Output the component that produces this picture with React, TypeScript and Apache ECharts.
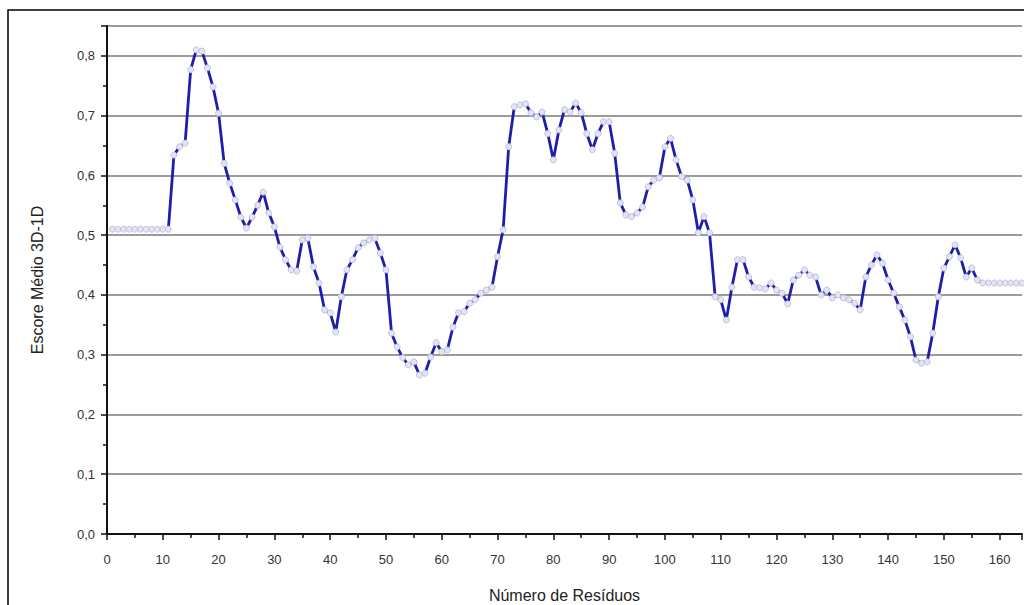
import React, { useEffect, useRef } from "react";
import * as echarts from "echarts";

const residues: number[] = [];
for (let r = 1; r <= 164; r++) residues.push(r);

const scores: number[] = [
  // 1-11
  0.51, 0.51, 0.51, 0.51, 0.51, 0.51, 0.51, 0.51, 0.51, 0.51, 0.51,
  // 12-20
  0.634, 0.648, 0.654, 0.777, 0.81, 0.808, 0.78, 0.748, 0.704,
  // 21-30
  0.62, 0.587, 0.559, 0.53, 0.512, 0.53, 0.55, 0.572, 0.537, 0.514,
  // 31-40
  0.48, 0.459, 0.442, 0.44, 0.492, 0.495, 0.447, 0.42, 0.375, 0.37,
  // 41-50
  0.338, 0.397, 0.442, 0.459, 0.479, 0.487, 0.492, 0.495, 0.47, 0.442,
  // 51-60
  0.336, 0.313, 0.295, 0.283, 0.288, 0.266, 0.269, 0.296, 0.32, 0.305,
  // 61-70
  0.308, 0.346, 0.37, 0.372, 0.386, 0.392, 0.403, 0.408, 0.413, 0.464,
  // 71-80
  0.509, 0.648, 0.715, 0.718, 0.72, 0.705, 0.698, 0.706, 0.67, 0.626,
  // 81-90
  0.676, 0.71, 0.706, 0.721, 0.705, 0.67, 0.643, 0.67, 0.69, 0.69,
  // 91-100
  0.637, 0.554, 0.534, 0.531, 0.537, 0.547, 0.581, 0.592, 0.596, 0.648,
  // 101-110
  0.662, 0.626, 0.598, 0.592, 0.559, 0.504, 0.531, 0.504, 0.397, 0.392,
  // 111-120
  0.358, 0.413, 0.459, 0.459, 0.43, 0.413, 0.412, 0.41, 0.42, 0.408,
  // 121-130
  0.403, 0.385, 0.425, 0.433, 0.442, 0.433, 0.43, 0.4, 0.408, 0.395,
  // 131-140
  0.4, 0.395, 0.392, 0.386, 0.375, 0.43, 0.45, 0.467, 0.453, 0.425,
  // 141-150
  0.403, 0.38, 0.358, 0.33, 0.291, 0.286, 0.288, 0.336, 0.397, 0.445,
  // 151-160
  0.464, 0.484, 0.462, 0.43, 0.445, 0.425, 0.42, 0.42, 0.42, 0.42,
  // 161-164
  0.42, 0.42, 0.42, 0.42,
];

const yTicks: number[] = [0, 0.1, 0.2, 0.3, 0.4, 0.5, 0.6, 0.7, 0.8];

export default function App() {
  const ref = useRef<HTMLDivElement>(null);
  useEffect(() => {
    if (!ref.current) return;
    const chart = echarts.init(ref.current, undefined, { renderer: "svg" });
    const font = "Liberation Sans";
    chart.setOption({
      animation: false,
      backgroundColor: "#ffffff",
      textStyle: { fontFamily: font },
      grid: {
        left: 107,
        right: 2,
        top: 26,
        bottom: 71,
        containLabel: false,
        outerBoundsMode: "none",
      },
      graphic: [
        {
          type: "rect",
          shape: { x: 8, y: 10, width: 1040, height: 620 },
          style: { fill: "none", stroke: "#000", lineWidth: 1.5 },
          silent: true,
        },
      ],
      xAxis: {
        type: "value",
        min: 0,
        max: 164,
        interval: 10,
        name: "Número de Resíduos",
        nameLocation: "middle",
        nameGap: 53,
        nameTextStyle: { fontSize: 16, color: "#222", fontFamily: font },
        axisLine: { show: true, lineStyle: { color: "#111", width: 2 } },
        axisTick: { show: true, length: 6, inside: false, lineStyle: { color: "#111", width: 1.5 } },
        minorTick: { show: true, splitNumber: 2, length: 4, lineStyle: { color: "#111", width: 1.5 } },
        axisLabel: {
          color: "#333",
          fontSize: 13,
          margin: 19,
          formatter: (v: number) => (v > 160 ? "" : String(v)),
        },
        splitLine: { show: false },
      },
      yAxis: {
        type: "value",
        min: 0,
        max: 0.85,
        interval: 0.1,
        name: "Escore Médio 3D-1D",
        nameLocation: "middle",
        nameGap: 62,
        nameTextStyle: { fontSize: 16, color: "#222", fontFamily: font },
        axisLine: { show: true, lineStyle: { color: "#111", width: 2 } },
        axisTick: { show: true, length: 6, lineStyle: { color: "#111", width: 1.5 } },
        minorTick: { show: true, splitNumber: 2, length: 4, lineStyle: { color: "#111", width: 1.5 } },
        axisLabel: {
          color: "#333",
          fontSize: 13,
          margin: 12,
          formatter: (v: number) => {
            const t = yTicks.find((k) => Math.abs(k - v) < 1e-6);
            return t === undefined ? "" : t.toFixed(1).replace(".", ",");
          },
        },
        splitLine: { show: true, lineStyle: { color: "#7a7a7a", width: 1.5 } },
      },
      series: [
        {
          type: "line",
          data: residues.map((r, i) => [r, scores[i]]),
          symbol: "circle",
          symbolSize: 6,
          showSymbol: true,
          lineStyle: { color: "#1e1ea8", width: 2.8 },
          itemStyle: { color: "#e4e4f4", borderColor: "#c0c0e0", borderWidth: 1 },
        },
      ],
    });
    return () => chart.dispose();
  }, []);
  return (
    <div
      ref={ref}
      style={{ position: "absolute", left: 0, top: 0, width: 1024, height: 605 }}
    />
  );
}
